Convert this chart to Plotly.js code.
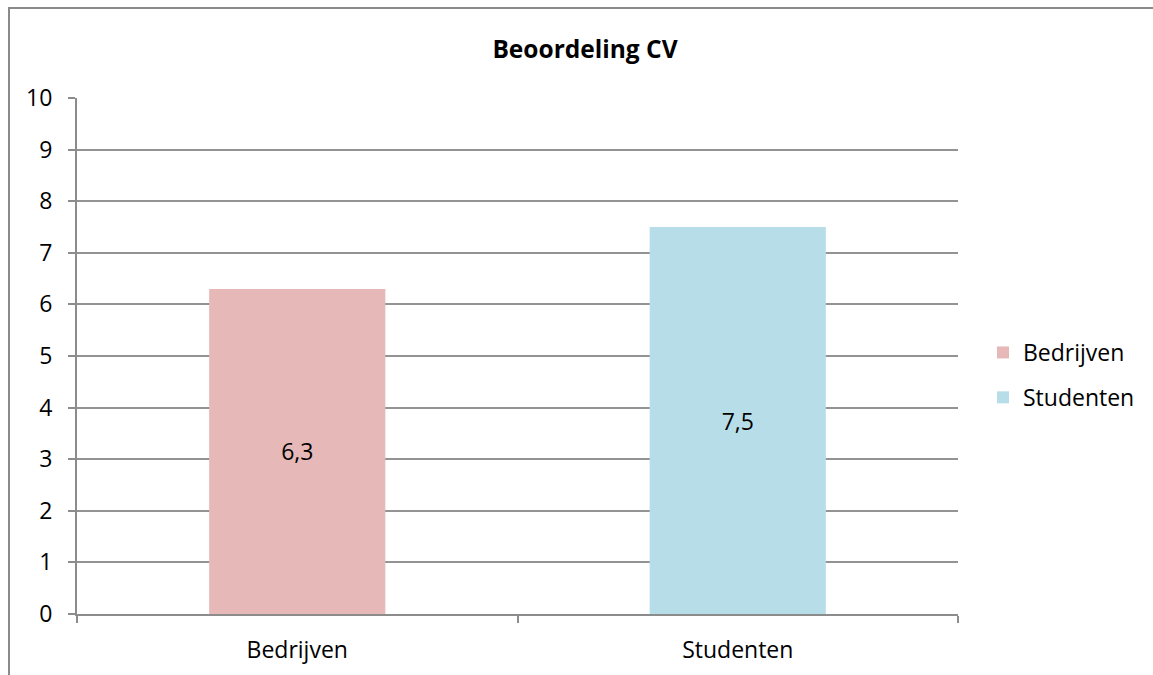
<!DOCTYPE html>
<html>
<head>
<meta charset="utf-8">
<script src="https://cdn.plot.ly/plotly-3.0.1.min.js"></script>
<style>
  html, body { margin: 0; padding: 0; background: #fff; overflow: hidden; }
  #chart { position: absolute; left: 0; top: 0; width: 1153px; height: 675px; }
  #frame { position: absolute; left: 8px; top: 7px; width: 1200px; height: 700px;
           border: 2px solid #8a8a8a; pointer-events: none; box-sizing: border-box; }
</style>
</head>
<body>
<div id="chart"></div>
<div id="frame"></div>
<script>
const categories = ["Bedrijven", "Studenten"];
const values = [6.3, 7.5];
const colors = ["#E6B8B7", "#B7DEE8"];
const yTicks = [0, 1, 2, 3, 4, 5, 6, 7, 8, 9, 10];

const FONT = "'Open Sans', Lato, sans-serif";
const FS = 23;

const traces = categories.map((c, i) => ({
  type: "bar",
  name: c,
  legendgroup: c,
  x: [c],
  y: [values[i]],
  marker: { color: colors[i] },
  texttemplate: "%{y:.1f}",
  textposition: "inside",
  insidetextanchor: "middle",
  textangle: 0,
  textfont: { family: FONT, size: FS, color: "#000" },
  hoverinfo: "x+y"
}));

const layout = {
  width: 1153,
  height: 675,
  margin: { l: 77, r: 195, t: 98, b: 61 },
  paper_bgcolor: "rgba(0,0,0,0)",
  plot_bgcolor: "#fff",
  separators: ",.",
  barmode: "overlay",
  bargap: 0.6,
  title: {
    text: "<b>Beoordeling CV</b>",
    font: { family: FONT, size: 24.5, color: "#000" },
    x: 585 / 1153, xanchor: "center",
    y: 1 - 49 / 675, yanchor: "middle"
  },
  font: { family: FONT, size: FS, color: "#000" },
  xaxis: {
    type: "category",
    categoryorder: "array",
    categoryarray: categories,
    tickson: "boundaries",
    ticks: "outside",
    ticklen: 7,
    tickcolor: "#8c8c8c",
    tickwidth: 2,
    showline: true,
    linecolor: "#8c8c8c",
    linewidth: 2,
    showgrid: false,
    ticklabelstandoff: 14,
    tickfont: { family: FONT, size: FS, color: "#000" }
  },
  yaxis: {
    range: [0, 10],
    tickvals: yTicks,
    ticktext: yTicks.map(String),
    ticks: "outside",
    ticklen: 7,
    tickcolor: "#8c8c8c",
    tickwidth: 2,
    showline: true,
    linecolor: "#8c8c8c",
    linewidth: 2,
    showgrid: true,
    gridcolor: "#939393",
    gridwidth: 2,
    zeroline: false,
    ticklabelstandoff: 11,
    tickfont: { family: FONT, size: FS, color: "#000" }
  },
  showlegend: true,
  legend: {
    x: (983 - 77) / 881,
    xanchor: "left",
    y: (614 - 375) / 516,
    yanchor: "middle",
    tracegroupgap: 12,
    font: { family: FONT, size: FS, color: "#000" },
    bgcolor: "rgba(0,0,0,0)",
    itemwidth: 30
  }
};

Plotly.newPlot("chart", traces, layout, { displayModeBar: false, staticPlot: true });
</script>
</body>
</html>
